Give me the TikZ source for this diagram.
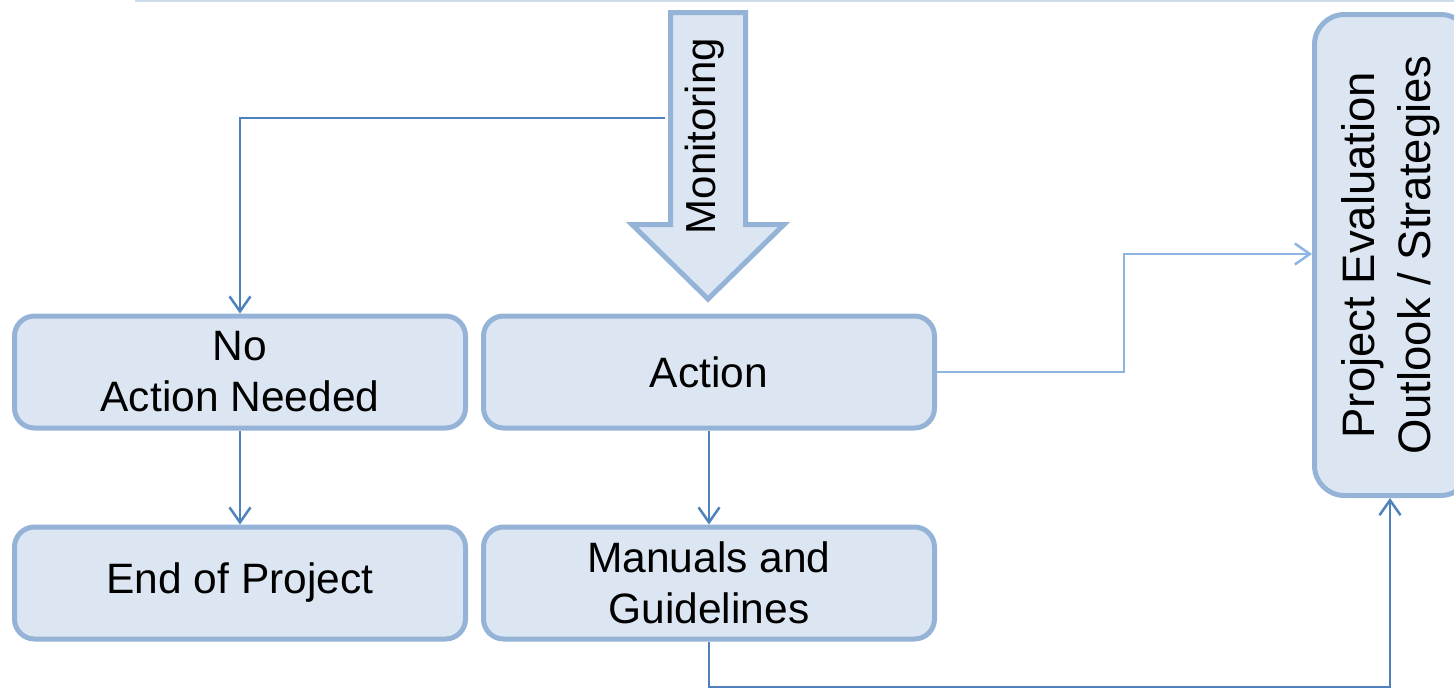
\documentclass[tikz,border=0pt]{standalone}
\usepackage{fontspec}
\setmainfont{Liberation Sans}
\usetikzlibrary{arrows.meta}
\definecolor{boxfill}{HTML}{DCE6F2}
\definecolor{boxline}{HTML}{95B3D7}
\definecolor{linkdark}{HTML}{4F81BD}
\definecolor{linklight}{HTML}{8EB4E3}
\tikzset{
  stepbox/.style={draw=boxline, fill=boxfill, line width=5pt, rounded corners=20pt,
    minimum width=451pt, minimum height=112pt, align=center, inner sep=0pt,
    font=\fontsize{42.5}{51}\selectfont},
  link/.style={draw=linkdark, line width=2.5pt,
    -{Straight Barb[length=15pt,width=21pt,line width=2.5pt]}},
  linklite/.style={link, draw=linklight},
}
\begin{document}
\begin{tikzpicture}[x=1pt,y=-1pt]
\useasboundingbox (0,0) rectangle (1454,689);
\clip (0,0) rectangle (1454,689);

% thin rule along the top edge
\coordinate (ruleL) at (135,1);
\coordinate (ruleR) at (1454,1);
\draw[boxfill!80!boxline, line width=2pt] (ruleL) -- (ruleR);

% monitoring block arrow
\draw[draw=boxline, fill=boxfill, line width=5pt, line join=miter]
  (670.5,12.5) -- (745.5,12.5) -- (745.5,224.5) -- (784,224.5) -- (708,299)
  -- (632,224.5) -- (670.5,224.5) -- cycle;
\node[rotate=90, font=\fontsize{42}{51}\selectfont, inner sep=0pt] (mon) at (705,136) {Monitoring};
\coordinate (monL) at (665,118);

% process boxes
\node[stepbox] (noact) at (240,372) {No\\Action Needed};
\node[stepbox] (act) at (709,372) {Action};
\node[stepbox] (endp) at (240,583) {End of Project};
\node[stepbox] (man) at (709,583) {Manuals and\\Guidelines};
\node[stepbox, rounded corners=30pt, minimum width=156pt, minimum height=481pt] (proj) at (1392.5,255) {};
\node[rotate=90, align=center, inner sep=0pt, font=\fontsize{45.5}{56}\selectfont] (projtxt) at (1391,255) {Project Evaluation\\Outlook / Strategies};

% connectors
\draw[link] (monL) -| (noact.north);
\draw[link] (noact.south) -- (endp.north);
\draw[link] (act.south) -- (man.north);
\coordinate (bend) at (1124,254);
\draw[linklite] (act.east) -| (bend) -- (bend -| proj.west);
\coordinate (low) at (1390,687);
\draw[link] (man.south) |- (low) -- (low |- proj.south);
\end{tikzpicture}
\end{document}
